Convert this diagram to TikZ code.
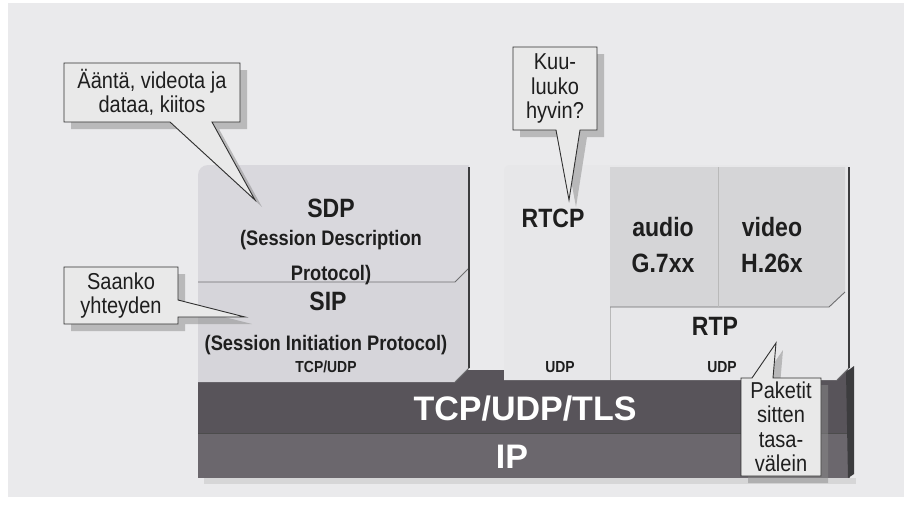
\documentclass[tikz,border=0pt]{standalone}
\usepackage{fontspec}
\setmainfont{Liberation Sans}
\newfontfamily\narrowfam{Liberation Sans}[FakeStretch=0.87]
\usetikzlibrary{calc}
\definecolor{pagebg}{HTML}{EAEAEC}
\definecolor{sdfill}{HTML}{D6D5DA}
\definecolor{rtfill}{HTML}{E7E7E9}
\definecolor{avfill}{HTML}{D5D5D7}
\definecolor{tcpc}{HTML}{58545A}
\definecolor{ipc}{HTML}{6B676D}
\definecolor{edgec}{HTML}{3C3C3E}
\definecolor{sepc}{HTML}{6E6E70}
\definecolor{txt}{HTML}{1E1E1E}
\definecolor{callfill}{HTML}{E9E9E9}
\definecolor{callline}{HTML}{303030}
\definecolor{shadowc}{HTML}{8A8A8A}
\newcommand\callfont{\narrowfam\fontsize{23}{24.5}\selectfont}
\newcommand\bigfont{\narrowfam\bfseries\fontsize{26.5}{30}\selectfont}
\newcommand\midfont{\narrowfam\bfseries\fontsize{21}{24}\selectfont}
\newcommand\smallfont{\narrowfam\bfseries\fontsize{16}{18}\selectfont}
\newcommand\barfont{\bfseries\fontsize{34}{38}\selectfont}
\tikzset{
  calloutshape/.style={fill=callfill, draw=callline, line width=0.9pt, line join=miter,
    preaction={draw=none, fill=shadowc, fill opacity=0.5, transform canvas={xshift=7pt,yshift=-7pt}}},
  callbox/.style={inner sep=0pt, outer sep=0pt, anchor=north west},
  calltext/.style={font=\callfont, align=center, text=txt, inner sep=0pt},
  lbl/.style={anchor=base, text=txt, inner sep=0pt},
  barlbl/.style={anchor=base, text=white, font=\barfont, inner sep=0pt},
  edge/.style={draw=edgec, line width=2pt},
  sep/.style={draw=sepc, line width=0.9pt},
  divider/.style={draw=gray!55, line width=0.5pt}
}
\begin{document}
\begin{tikzpicture}[x=1pt,y=-1pt]
\useasboundingbox (0,0) rectangle (911,506);
\fill[white] (0,0) rectangle (911,506);
\fill[pagebg] (8,3) rectangle (904,497);

% ---- bottom bars
\fill[black!30, opacity=0.35] (204,478) rectangle (856,484);
\fill[tcpc] (198,370) rectangle (850,433);
\fill[ipc] (198,433) rectangle (850,478);
\draw[draw=black!70, line width=1pt] (198,433) -- (850,433);
\fill[edgec] (846,372) -- (854,366) -- (854,474) -- (848,478) -- cycle;
\node[barlbl] (tcplbl) at (525,420) {TCP/UDP/TLS};
\node[barlbl] (iplbl) at (512,468) {IP};

% ---- SIP and SDP
\fill[sdfill] (198,268) -- (469,268) -- (469,368) -- (455,382) -- (198,382) -- cycle;
\fill[sdfill!92!white] (198,282) [rounded corners=10]-- (198,165) [sharp corners]-- (469,165) -- (469,268) -- (455,282) -- cycle;
\draw[sep] (198,282) -- (455,282) -- (469,268);
\draw[edge] (469,167) -- (469,368);
\draw[sep] (455,382) -- (469,368);

\node[lbl, font=\bigfont] (sdp) at (331,217) {SDP};
\node[lbl, font=\midfont] (sdp2) at (331,245) {(Session Description};
\node[lbl, font=\midfont] (sdp3) at (331,280) {Protocol)};
\node[lbl, font=\bigfont] (sip) at (328,310) {SIP};
\node[lbl, font=\midfont] (sip2) at (326,350) {(Session Initiation Protocol)};
\node[lbl, font=\smallfont] (sip3) at (326,372) {TCP/UDP};

% ---- RTCP / RTP group
\fill[rtfill] (504,380) [rounded corners=6]-- (504,165) [sharp corners]-- (849,165) -- (849,368) -- (837,380) -- cycle;
\draw[divider] (610,167) -- (610,380);
\fill[avfill] (610,167) -- (845,167) -- (845,292) -- (829,307) -- (610,307) -- cycle;
\draw[sep] (610,307) -- (829,307) -- (845,292);
\draw[divider] (718,167) -- (718,307);
\draw[edge] (849,167) -- (849,368);
\draw[sep] (837,380) -- (849,368);

\node[lbl, font=\bigfont] (rtcp) at (553,227) {RTCP};
\node[lbl, font=\bigfont] (audio) at (663,236) {audio};
\node[lbl, font=\bigfont] (g7) at (663,272) {G.7xx};
\node[lbl, font=\bigfont] (video) at (772,236) {video};
\node[lbl, font=\bigfont] (h26) at (772,272) {H.26x};
\node[lbl, font=\bigfont] (rtp) at (715,335) {RTP};
\node[lbl, font=\smallfont] (udp1) at (560,372) {UDP};
\node[lbl, font=\smallfont] (udp2) at (722,372) {UDP};

% ---- callouts
\coordinate (tip1) at (255,200);
\coordinate (tip2) at (245,317);
\coordinate (tip3) at (569,200);
\coordinate (tip4) at (776,343);

\node[callbox, minimum width=176pt, minimum height=59pt] (c1) at (64,63) {};
\path[calloutshape] (c1.north west) -- (c1.north east) -- (c1.south east)
  -- ($(c1.south west)+(148,0)$) -- (tip1) -- ($(c1.south west)+(106,0)$) -- (c1.south west) -- cycle;
\node[calltext] (c1t) at (c1.center) {Ääntä, videota ja\\dataa, kiitos};

\node[callbox, minimum width=114pt, minimum height=57pt] (c2) at (64,267) {};
\path[calloutshape] (c2.north west) -- (c2.north east) -- ($(c2.north east)+(0,33)$)
  -- (tip2) -- ($(c2.north east)+(0,50)$) -- (c2.south east) -- (c2.south west) -- cycle;
\node[calltext] (c2t) at (c2.center) {Saanko\\yhteyden};

\node[callbox, minimum width=84pt, minimum height=83pt] (c3) at (513,47) {};
\path[calloutshape] (c3.north west) -- (c3.north east) -- (c3.south east)
  -- ($(c3.south west)+(67,0)$) -- (tip3) -- ($(c3.south west)+(43,0)$) -- (c3.south west) -- cycle;
\node[calltext] (c3t) at (c3.center) {Kuu-\\luuko\\hyvin?};

\node[callbox, minimum width=80pt, minimum height=98pt] (c4) at (741,378) {};
\path[calloutshape] (c4.south west) -- (c4.north west) -- ($(c4.north west)+(11,0)$)
  -- (tip4) -- ($(c4.north west)+(32,0)$) -- (c4.north east) -- (c4.south east) -- cycle;
\node[calltext] (c4t) at (c4.center) {Paketit\\sitten\\tasa-\\välein};
\end{tikzpicture}
\end{document}
